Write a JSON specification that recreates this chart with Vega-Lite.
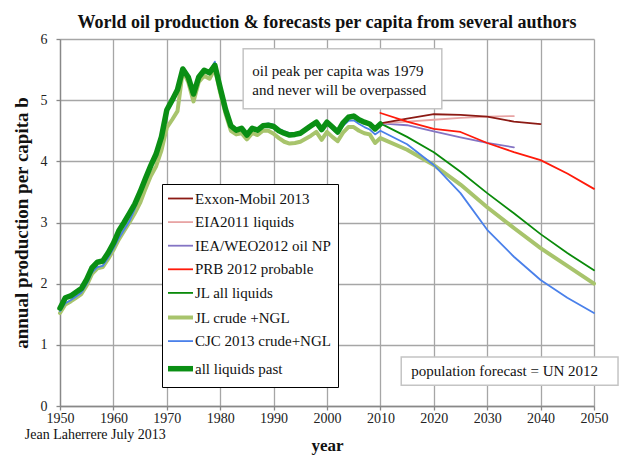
{
  "$schema": "https://vega.github.io/schema/vega-lite/v6.json",
  "autosize": "none",
  "width": 534,
  "height": 367,
  "padding": {"left": 60, "top": 39, "right": 46, "bottom": 55},
  "background": "white",
  "config": {
    "font": "Liberation Serif",
    "view": {"stroke": null},
    "axis": {"labelFont": "Liberation Serif", "labelFontSize": 14, "labelColor": "#222", "titleFont": "Liberation Serif", "titleFontWeight": "bold", "titleColor": "#111", "gridColor": "#a6a6a6", "gridWidth": 1.3, "domainColor": "#888", "domainWidth": 1.3, "tickColor": "#888", "tickSize": 4, "tickWidth": 1.3}
  },
  "title": {"text": "World oil production & forecasts per capita from several authors", "font": "Liberation Serif", "fontSize": 18, "fontWeight": "bold", "color": "#111", "anchor": "middle", "offset": 0},
  "datasets": {
    "lines": [
      {"series": "all liquids past", "year": 1950, "value": 1.60},
      {"series": "all liquids past", "year": 1951, "value": 1.77},
      {"series": "all liquids past", "year": 1952, "value": 1.80},
      {"series": "all liquids past", "year": 1953, "value": 1.86},
      {"series": "all liquids past", "year": 1954, "value": 1.92},
      {"series": "all liquids past", "year": 1955, "value": 2.07},
      {"series": "all liquids past", "year": 1956, "value": 2.26},
      {"series": "all liquids past", "year": 1957, "value": 2.35},
      {"series": "all liquids past", "year": 1958, "value": 2.37},
      {"series": "all liquids past", "year": 1959, "value": 2.50},
      {"series": "all liquids past", "year": 1960, "value": 2.66},
      {"series": "all liquids past", "year": 1961, "value": 2.86},
      {"series": "all liquids past", "year": 1962, "value": 3.00},
      {"series": "all liquids past", "year": 1963, "value": 3.15},
      {"series": "all liquids past", "year": 1964, "value": 3.30},
      {"series": "all liquids past", "year": 1965, "value": 3.50},
      {"series": "all liquids past", "year": 1966, "value": 3.72},
      {"series": "all liquids past", "year": 1967, "value": 3.93},
      {"series": "all liquids past", "year": 1968, "value": 4.12},
      {"series": "all liquids past", "year": 1969, "value": 4.40},
      {"series": "all liquids past", "year": 1970, "value": 4.84},
      {"series": "all liquids past", "year": 1971, "value": 5.00},
      {"series": "all liquids past", "year": 1972, "value": 5.17},
      {"series": "all liquids past", "year": 1973, "value": 5.51},
      {"series": "all liquids past", "year": 1974, "value": 5.38},
      {"series": "all liquids past", "year": 1975, "value": 5.10},
      {"series": "all liquids past", "year": 1976, "value": 5.38},
      {"series": "all liquids past", "year": 1977, "value": 5.49},
      {"series": "all liquids past", "year": 1978, "value": 5.45},
      {"series": "all liquids past", "year": 1979, "value": 5.57},
      {"series": "all liquids past", "year": 1980, "value": 5.20},
      {"series": "all liquids past", "year": 1981, "value": 4.85},
      {"series": "all liquids past", "year": 1982, "value": 4.58},
      {"series": "all liquids past", "year": 1983, "value": 4.51},
      {"series": "all liquids past", "year": 1984, "value": 4.54},
      {"series": "all liquids past", "year": 1985, "value": 4.43},
      {"series": "all liquids past", "year": 1986, "value": 4.54},
      {"series": "all liquids past", "year": 1987, "value": 4.51},
      {"series": "all liquids past", "year": 1988, "value": 4.58},
      {"series": "all liquids past", "year": 1989, "value": 4.59},
      {"series": "all liquids past", "year": 1990, "value": 4.57},
      {"series": "all liquids past", "year": 1991, "value": 4.50},
      {"series": "all liquids past", "year": 1992, "value": 4.46},
      {"series": "all liquids past", "year": 1993, "value": 4.43},
      {"series": "all liquids past", "year": 1994, "value": 4.44},
      {"series": "all liquids past", "year": 1995, "value": 4.46},
      {"series": "all liquids past", "year": 1996, "value": 4.52},
      {"series": "all liquids past", "year": 1997, "value": 4.58},
      {"series": "all liquids past", "year": 1998, "value": 4.64},
      {"series": "all liquids past", "year": 1999, "value": 4.52},
      {"series": "all liquids past", "year": 2000, "value": 4.64},
      {"series": "all liquids past", "year": 2001, "value": 4.56},
      {"series": "all liquids past", "year": 2002, "value": 4.48},
      {"series": "all liquids past", "year": 2003, "value": 4.63},
      {"series": "all liquids past", "year": 2004, "value": 4.72},
      {"series": "all liquids past", "year": 2005, "value": 4.74},
      {"series": "all liquids past", "year": 2006, "value": 4.68},
      {"series": "all liquids past", "year": 2007, "value": 4.64},
      {"series": "all liquids past", "year": 2008, "value": 4.61},
      {"series": "all liquids past", "year": 2009, "value": 4.53},
      {"series": "all liquids past", "year": 2010, "value": 4.61},

      {"series": "CJC 2013 crude+NGL", "year": 1950, "value": 1.55},
      {"series": "CJC 2013 crude+NGL", "year": 1951, "value": 1.68},
      {"series": "CJC 2013 crude+NGL", "year": 1952, "value": 1.73},
      {"series": "CJC 2013 crude+NGL", "year": 1953, "value": 1.79},
      {"series": "CJC 2013 crude+NGL", "year": 1954, "value": 1.85},
      {"series": "CJC 2013 crude+NGL", "year": 1955, "value": 1.99},
      {"series": "CJC 2013 crude+NGL", "year": 1956, "value": 2.18},
      {"series": "CJC 2013 crude+NGL", "year": 1957, "value": 2.27},
      {"series": "CJC 2013 crude+NGL", "year": 1958, "value": 2.29},
      {"series": "CJC 2013 crude+NGL", "year": 1959, "value": 2.42},
      {"series": "CJC 2013 crude+NGL", "year": 1960, "value": 2.57},
      {"series": "CJC 2013 crude+NGL", "year": 1961, "value": 2.74},
      {"series": "CJC 2013 crude+NGL", "year": 1962, "value": 2.88},
      {"series": "CJC 2013 crude+NGL", "year": 1963, "value": 3.02},
      {"series": "CJC 2013 crude+NGL", "year": 1964, "value": 3.22},
      {"series": "CJC 2013 crude+NGL", "year": 1965, "value": 3.48},
      {"series": "CJC 2013 crude+NGL", "year": 1966, "value": 3.75},
      {"series": "CJC 2013 crude+NGL", "year": 1967, "value": 3.98},
      {"series": "CJC 2013 crude+NGL", "year": 1968, "value": 4.16},
      {"series": "CJC 2013 crude+NGL", "year": 1969, "value": 4.42},
      {"series": "CJC 2013 crude+NGL", "year": 1970, "value": 4.84},
      {"series": "CJC 2013 crude+NGL", "year": 1971, "value": 5.00},
      {"series": "CJC 2013 crude+NGL", "year": 1972, "value": 5.16},
      {"series": "CJC 2013 crude+NGL", "year": 1973, "value": 5.50},
      {"series": "CJC 2013 crude+NGL", "year": 1974, "value": 5.37},
      {"series": "CJC 2013 crude+NGL", "year": 1975, "value": 5.10},
      {"series": "CJC 2013 crude+NGL", "year": 1976, "value": 5.37},
      {"series": "CJC 2013 crude+NGL", "year": 1977, "value": 5.48},
      {"series": "CJC 2013 crude+NGL", "year": 1978, "value": 5.47},
      {"series": "CJC 2013 crude+NGL", "year": 1979, "value": 5.63},
      {"series": "CJC 2013 crude+NGL", "year": 1980, "value": 5.20},
      {"series": "CJC 2013 crude+NGL", "year": 1981, "value": 4.84},
      {"series": "CJC 2013 crude+NGL", "year": 1982, "value": 4.57},
      {"series": "CJC 2013 crude+NGL", "year": 1983, "value": 4.50},
      {"series": "CJC 2013 crude+NGL", "year": 1984, "value": 4.53},
      {"series": "CJC 2013 crude+NGL", "year": 1985, "value": 4.43},
      {"series": "CJC 2013 crude+NGL", "year": 1986, "value": 4.55},
      {"series": "CJC 2013 crude+NGL", "year": 1987, "value": 4.53},
      {"series": "CJC 2013 crude+NGL", "year": 1988, "value": 4.60},
      {"series": "CJC 2013 crude+NGL", "year": 1989, "value": 4.62},
      {"series": "CJC 2013 crude+NGL", "year": 1990, "value": 4.60},
      {"series": "CJC 2013 crude+NGL", "year": 1991, "value": 4.53},
      {"series": "CJC 2013 crude+NGL", "year": 1992, "value": 4.49},
      {"series": "CJC 2013 crude+NGL", "year": 1993, "value": 4.46},
      {"series": "CJC 2013 crude+NGL", "year": 1994, "value": 4.46},
      {"series": "CJC 2013 crude+NGL", "year": 1995, "value": 4.47},
      {"series": "CJC 2013 crude+NGL", "year": 1996, "value": 4.51},
      {"series": "CJC 2013 crude+NGL", "year": 1997, "value": 4.56},
      {"series": "CJC 2013 crude+NGL", "year": 1998, "value": 4.62},
      {"series": "CJC 2013 crude+NGL", "year": 1999, "value": 4.50},
      {"series": "CJC 2013 crude+NGL", "year": 2000, "value": 4.62},
      {"series": "CJC 2013 crude+NGL", "year": 2001, "value": 4.53},
      {"series": "CJC 2013 crude+NGL", "year": 2002, "value": 4.45},
      {"series": "CJC 2013 crude+NGL", "year": 2003, "value": 4.58},
      {"series": "CJC 2013 crude+NGL", "year": 2004, "value": 4.66},
      {"series": "CJC 2013 crude+NGL", "year": 2005, "value": 4.67},
      {"series": "CJC 2013 crude+NGL", "year": 2006, "value": 4.61},
      {"series": "CJC 2013 crude+NGL", "year": 2007, "value": 4.56},
      {"series": "CJC 2013 crude+NGL", "year": 2008, "value": 4.52},
      {"series": "CJC 2013 crude+NGL", "year": 2009, "value": 4.44},
      {"series": "CJC 2013 crude+NGL", "year": 2010, "value": 4.50},
      {"series": "CJC 2013 crude+NGL", "year": 2015, "value": 4.28},
      {"series": "CJC 2013 crude+NGL", "year": 2020, "value": 3.94},
      {"series": "CJC 2013 crude+NGL", "year": 2025, "value": 3.48},
      {"series": "CJC 2013 crude+NGL", "year": 2030, "value": 2.88},
      {"series": "CJC 2013 crude+NGL", "year": 2035, "value": 2.44},
      {"series": "CJC 2013 crude+NGL", "year": 2040, "value": 2.06},
      {"series": "CJC 2013 crude+NGL", "year": 2045, "value": 1.77},
      {"series": "CJC 2013 crude+NGL", "year": 2050, "value": 1.52},

      {"series": "JL crude +NGL", "year": 1950, "value": 1.52},
      {"series": "JL crude +NGL", "year": 1951, "value": 1.66},
      {"series": "JL crude +NGL", "year": 1952, "value": 1.71},
      {"series": "JL crude +NGL", "year": 1953, "value": 1.77},
      {"series": "JL crude +NGL", "year": 1954, "value": 1.83},
      {"series": "JL crude +NGL", "year": 1955, "value": 1.97},
      {"series": "JL crude +NGL", "year": 1956, "value": 2.16},
      {"series": "JL crude +NGL", "year": 1957, "value": 2.25},
      {"series": "JL crude +NGL", "year": 1958, "value": 2.27},
      {"series": "JL crude +NGL", "year": 1959, "value": 2.40},
      {"series": "JL crude +NGL", "year": 1960, "value": 2.55},
      {"series": "JL crude +NGL", "year": 1961, "value": 2.72},
      {"series": "JL crude +NGL", "year": 1962, "value": 2.86},
      {"series": "JL crude +NGL", "year": 1963, "value": 3.00},
      {"series": "JL crude +NGL", "year": 1964, "value": 3.15},
      {"series": "JL crude +NGL", "year": 1965, "value": 3.32},
      {"series": "JL crude +NGL", "year": 1966, "value": 3.55},
      {"series": "JL crude +NGL", "year": 1967, "value": 3.76},
      {"series": "JL crude +NGL", "year": 1968, "value": 3.92},
      {"series": "JL crude +NGL", "year": 1969, "value": 4.18},
      {"series": "JL crude +NGL", "year": 1970, "value": 4.55},
      {"series": "JL crude +NGL", "year": 1971, "value": 4.68},
      {"series": "JL crude +NGL", "year": 1972, "value": 4.82},
      {"series": "JL crude +NGL", "year": 1973, "value": 5.48},
      {"series": "JL crude +NGL", "year": 1974, "value": 5.30},
      {"series": "JL crude +NGL", "year": 1975, "value": 4.98},
      {"series": "JL crude +NGL", "year": 1976, "value": 5.30},
      {"series": "JL crude +NGL", "year": 1977, "value": 5.40},
      {"series": "JL crude +NGL", "year": 1978, "value": 5.35},
      {"series": "JL crude +NGL", "year": 1979, "value": 5.52},
      {"series": "JL crude +NGL", "year": 1980, "value": 5.12},
      {"series": "JL crude +NGL", "year": 1981, "value": 4.78},
      {"series": "JL crude +NGL", "year": 1982, "value": 4.50},
      {"series": "JL crude +NGL", "year": 1983, "value": 4.44},
      {"series": "JL crude +NGL", "year": 1984, "value": 4.46},
      {"series": "JL crude +NGL", "year": 1985, "value": 4.36},
      {"series": "JL crude +NGL", "year": 1986, "value": 4.46},
      {"series": "JL crude +NGL", "year": 1987, "value": 4.43},
      {"series": "JL crude +NGL", "year": 1988, "value": 4.50},
      {"series": "JL crude +NGL", "year": 1989, "value": 4.50},
      {"series": "JL crude +NGL", "year": 1990, "value": 4.45},
      {"series": "JL crude +NGL", "year": 1991, "value": 4.38},
      {"series": "JL crude +NGL", "year": 1992, "value": 4.32},
      {"series": "JL crude +NGL", "year": 1993, "value": 4.29},
      {"series": "JL crude +NGL", "year": 1994, "value": 4.30},
      {"series": "JL crude +NGL", "year": 1995, "value": 4.32},
      {"series": "JL crude +NGL", "year": 1996, "value": 4.37},
      {"series": "JL crude +NGL", "year": 1997, "value": 4.42},
      {"series": "JL crude +NGL", "year": 1998, "value": 4.48},
      {"series": "JL crude +NGL", "year": 1999, "value": 4.35},
      {"series": "JL crude +NGL", "year": 2000, "value": 4.48},
      {"series": "JL crude +NGL", "year": 2001, "value": 4.40},
      {"series": "JL crude +NGL", "year": 2002, "value": 4.33},
      {"series": "JL crude +NGL", "year": 2003, "value": 4.47},
      {"series": "JL crude +NGL", "year": 2004, "value": 4.56},
      {"series": "JL crude +NGL", "year": 2005, "value": 4.56},
      {"series": "JL crude +NGL", "year": 2006, "value": 4.50},
      {"series": "JL crude +NGL", "year": 2007, "value": 4.46},
      {"series": "JL crude +NGL", "year": 2008, "value": 4.44},
      {"series": "JL crude +NGL", "year": 2009, "value": 4.30},
      {"series": "JL crude +NGL", "year": 2010, "value": 4.38},
      {"series": "JL crude +NGL", "year": 2015, "value": 4.19},
      {"series": "JL crude +NGL", "year": 2020, "value": 3.94},
      {"series": "JL crude +NGL", "year": 2025, "value": 3.62},
      {"series": "JL crude +NGL", "year": 2030, "value": 3.25},
      {"series": "JL crude +NGL", "year": 2035, "value": 2.91},
      {"series": "JL crude +NGL", "year": 2040, "value": 2.58},
      {"series": "JL crude +NGL", "year": 2045, "value": 2.29},
      {"series": "JL crude +NGL", "year": 2050, "value": 2.00},

      {"series": "JL all liquids", "year": 2010, "value": 4.62},
      {"series": "JL all liquids", "year": 2015, "value": 4.40},
      {"series": "JL all liquids", "year": 2020, "value": 4.15},
      {"series": "JL all liquids", "year": 2025, "value": 3.83},
      {"series": "JL all liquids", "year": 2030, "value": 3.48},
      {"series": "JL all liquids", "year": 2035, "value": 3.15},
      {"series": "JL all liquids", "year": 2040, "value": 2.81},
      {"series": "JL all liquids", "year": 2045, "value": 2.50},
      {"series": "JL all liquids", "year": 2050, "value": 2.22},

      {"series": "IEA/WEO2012 oil NP", "year": 2010, "value": 4.62},
      {"series": "IEA/WEO2012 oil NP", "year": 2015, "value": 4.59},
      {"series": "IEA/WEO2012 oil NP", "year": 2020, "value": 4.49},
      {"series": "IEA/WEO2012 oil NP", "year": 2025, "value": 4.39},
      {"series": "IEA/WEO2012 oil NP", "year": 2030, "value": 4.30},
      {"series": "IEA/WEO2012 oil NP", "year": 2035, "value": 4.23},

      {"series": "EIA2011 liquids", "year": 2010, "value": 4.62},
      {"series": "EIA2011 liquids", "year": 2015, "value": 4.65},
      {"series": "EIA2011 liquids", "year": 2020, "value": 4.68},
      {"series": "EIA2011 liquids", "year": 2025, "value": 4.71},
      {"series": "EIA2011 liquids", "year": 2030, "value": 4.73},
      {"series": "EIA2011 liquids", "year": 2035, "value": 4.74},

      {"series": "Exxon-Mobil 2013", "year": 2010, "value": 4.62},
      {"series": "Exxon-Mobil 2013", "year": 2015, "value": 4.70},
      {"series": "Exxon-Mobil 2013", "year": 2020, "value": 4.77},
      {"series": "Exxon-Mobil 2013", "year": 2025, "value": 4.76},
      {"series": "Exxon-Mobil 2013", "year": 2030, "value": 4.73},
      {"series": "Exxon-Mobil 2013", "year": 2035, "value": 4.65},
      {"series": "Exxon-Mobil 2013", "year": 2040, "value": 4.61},

      {"series": "PRB 2012 probable", "year": 2010, "value": 4.79},
      {"series": "PRB 2012 probable", "year": 2015, "value": 4.65},
      {"series": "PRB 2012 probable", "year": 2020, "value": 4.53},
      {"series": "PRB 2012 probable", "year": 2025, "value": 4.48},
      {"series": "PRB 2012 probable", "year": 2030, "value": 4.30},
      {"series": "PRB 2012 probable", "year": 2035, "value": 4.15},
      {"series": "PRB 2012 probable", "year": 2040, "value": 4.02},
      {"series": "PRB 2012 probable", "year": 2045, "value": 3.80},
      {"series": "PRB 2012 probable", "year": 2050, "value": 3.55}
    ],
    "boxes": [
      {"x1": 1984.3, "x2": 2021.5, "y1": 4.86, "y2": 5.84},
      {"x1": 2013.9, "x2": 2054.5, "y1": 0.34, "y2": 0.80}
    ],
    "notes": [
      {"year": 1986.0, "value": 5.48, "label": "oil peak per capita was 1979"},
      {"year": 1986.0, "value": 5.17, "label": "and never will be overpassed"},
      {"year": 2015.8, "value": 0.57, "label": "population forecast = UN 2012"}
    ],
    "credit": [
      {"year": 1943.4, "value": -0.47, "label": "Jean Laherrere July 2013"}
    ]
  },
  "encoding": {},
  "layer": [
    {
      "data": {"name": "lines"},
      "transform": [{"filter": "datum.series === 'JL crude +NGL'"}],
      "mark": {"type": "line", "strokeJoin": "round", "strokeCap": "round", "strokeWidth": 4},
      "encoding": {
        "x": {"field": "year", "type": "quantitative", "scale": {"domain": [1950, 2050], "nice": false, "zero": false},
              "axis": {"values": [1950,1960,1970,1980,1990,2000,2010,2020,2030,2040,2050], "format": "d", "labelFlush": false, "title": "year", "titleFontSize": 17, "labelPadding": 1, "titlePadding": 12}},
        "y": {"field": "value", "type": "quantitative", "scale": {"domain": [0, 6], "nice": false},
              "axis": {"values": [0,1,2,3,4,5,6], "format": "d", "labelFlush": false, "title": "annual production per capita b", "titleFontSize": 19, "labelPadding": 9, "titlePadding": 9}},
        "color": {"field": "series", "type": "nominal",
          "scale": {"domain": ["Exxon-Mobil 2013", "EIA2011 liquids", "IEA/WEO2012 oil NP", "PRB 2012 probable", "JL all liquids", "JL crude +NGL", "CJC 2013 crude+NGL", "all liquids past"],
                    "range": ["#8c1a14", "#e8a4a4", "#8474c4", "#ff1a0a", "#0a8a0a", "#a8c46c", "#4a80ea", "#0a8f14"]},
          "legend": {"orient": "none", "legendX": 102, "legendY": 145, "title": null, "symbolType": "stroke", "symbolSize": 625, "symbolOffset": 4, "labelFont": "Liberation Serif", "labelFontSize": 15, "labelColor": "#111", "strokeColor": "#000", "fillColor": "white", "padding": 7, "rowPadding": 7.6, "labelOffset": 7, "labelLimit": 300,
            "encode": {"symbols": {"update": {"size": {"value": 625}, "strokeWidth": {"signal": "datum.value === 'all liquids past' ? 5.5 : (datum.value === 'JL crude +NGL' ? 4 : 1.8)"}}}}}}
      }
    },
    {
      "data": {"name": "lines"},
      "transform": [{"filter": "datum.series !== 'JL crude +NGL' && datum.series !== 'all liquids past'"}],
      "mark": {"type": "line", "strokeJoin": "round", "strokeCap": "round", "strokeWidth": 1.8},
      "encoding": {
        "x": {"field": "year", "type": "quantitative"},
        "y": {"field": "value", "type": "quantitative"},
        "color": {"field": "series", "type": "nominal"}
      }
    },
    {
      "data": {"name": "lines"},
      "transform": [{"filter": "datum.series === 'all liquids past'"}],
      "mark": {"type": "line", "strokeJoin": "round", "strokeCap": "round", "strokeWidth": 5.5},
      "encoding": {
        "x": {"field": "year", "type": "quantitative"},
        "y": {"field": "value", "type": "quantitative"},
        "color": {"field": "series", "type": "nominal"}
      }
    },
    {
      "data": {"name": "boxes"},
      "mark": {"type": "rect", "fill": "white", "stroke": "#c4c4c4", "strokeWidth": 1.5},
      "encoding": {
        "x": {"field": "x1", "type": "quantitative"},
        "x2": {"field": "x2"},
        "y": {"field": "y1", "type": "quantitative"},
        "y2": {"field": "y2"}
      }
    },
    {
      "data": {"name": "notes"},
      "mark": {"type": "text", "align": "left", "baseline": "middle", "font": "Liberation Serif", "fontSize": 15, "color": "#111"},
      "encoding": {
        "x": {"field": "year", "type": "quantitative"},
        "y": {"field": "value", "type": "quantitative"},
        "text": {"field": "label"}
      }
    },
    {
      "data": {"name": "credit"},
      "mark": {"type": "text", "align": "left", "baseline": "middle", "font": "Liberation Serif", "fontSize": 14, "color": "#111"},
      "encoding": {
        "x": {"field": "year", "type": "quantitative"},
        "y": {"field": "value", "type": "quantitative"},
        "text": {"field": "label"}
      }
    }
  ]
}
